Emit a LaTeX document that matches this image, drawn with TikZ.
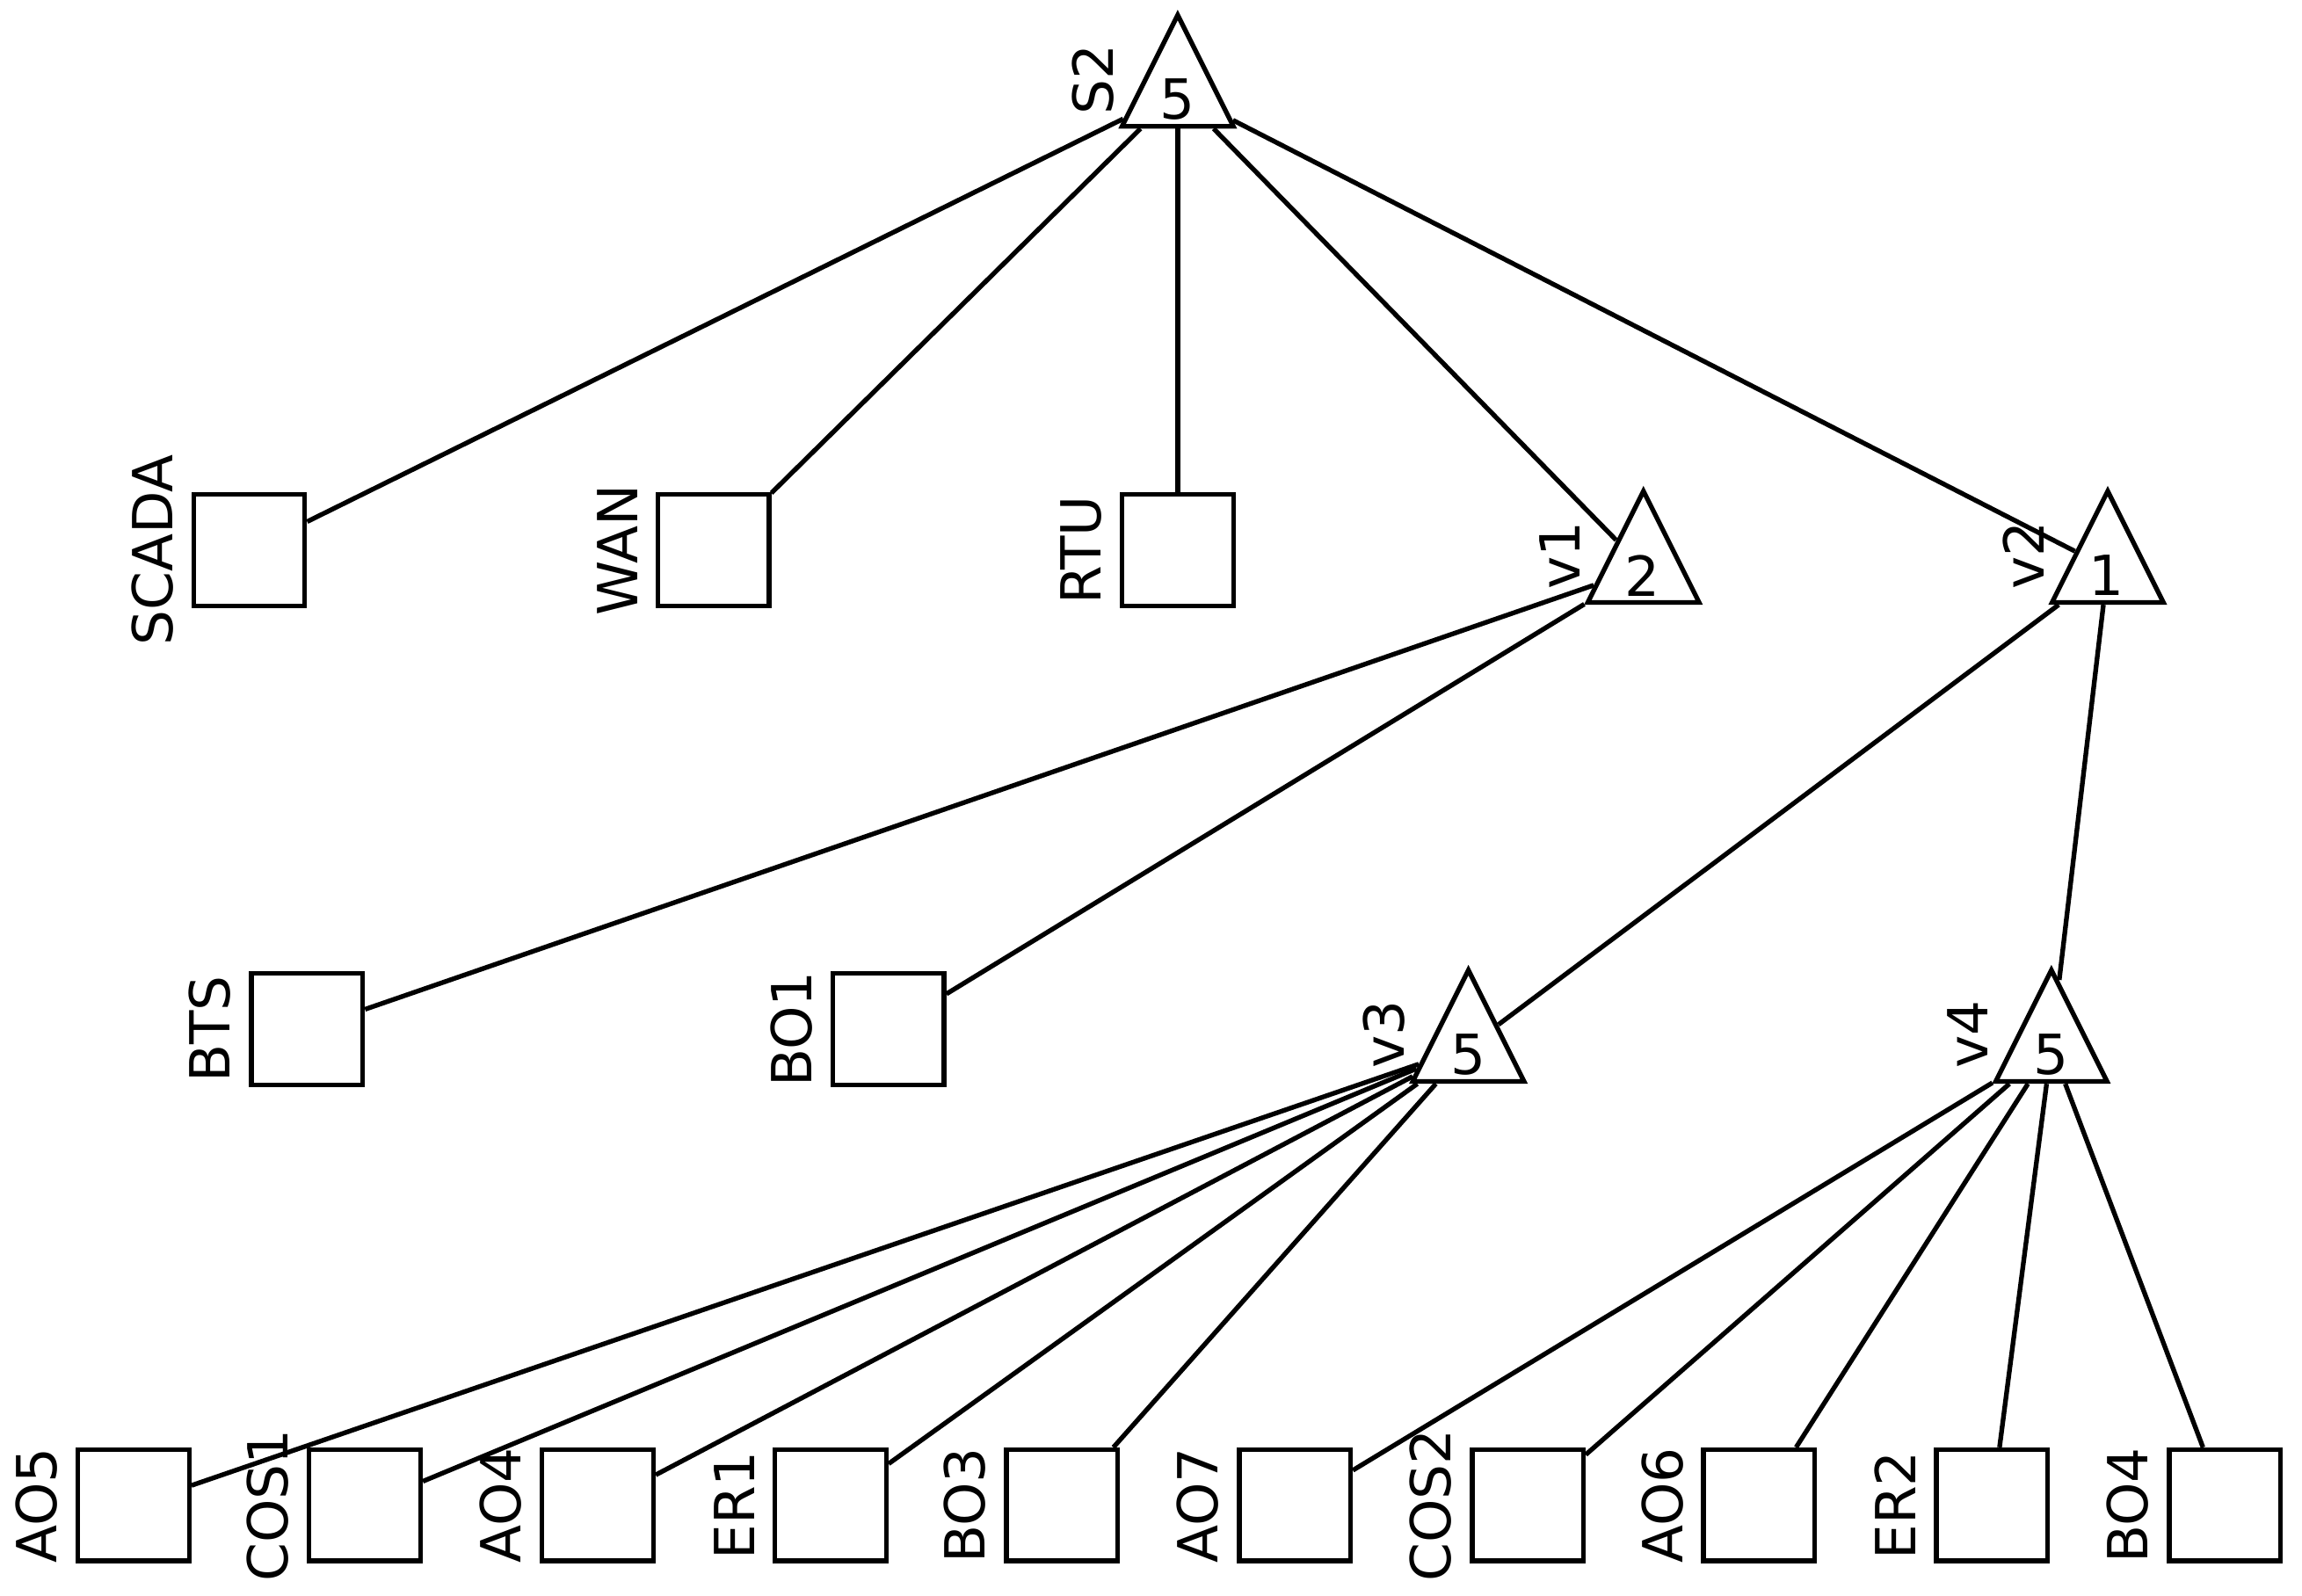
\documentclass[tikz,border=0pt]{standalone}
\usepackage{fontspec}
\setmainfont{DejaVu Sans}
\usetikzlibrary{shapes.geometric}

\tikzset{
  leaf/.style={draw, line width=0.9pt, minimum size=0.75cm, inner sep=0pt},
  gate/.style={draw, line width=0.9pt, isosceles triangle, shape border rotate=90,
               isosceles triangle stretches, minimum width=0.75cm, minimum height=0.75cm,
               inner sep=0pt},
  tag/.style={rotate=90, anchor=south, inner sep=3pt},
  gtag/.style={tag, inner sep=5pt},
  every node/.style={font=\fontsize{10.6}{12}\selectfont},
  every path/.style={line width=0.9pt}
}

\begin{document}
\begin{tikzpicture}[x=0.01cm, y=-0.01cm]
  \useasboundingbox (0,0) rectangle (1552,1076);

  % gates
  \node[gate, label={[gtag]160:S2}] (S2) at (794,62) {};
  \node[gate, label={[gtag]160:v1}] (v1) at (1108,383) {};
  \node[gate, label={[gtag]160:v2}] (v2) at (1421,383) {};
  \node[gate, label={[gtag]160:v3}] (v3) at (990,706) {};
  \node[gate, label={[gtag]160:v4}] (v4) at (1383,706) {};
  \node at (794,67) {5};
  \node at (1107,388) {2};
  \node at (1420,388) {1};
  \node at (990,711) {5};
  \node at (1383,711) {5};

  % leaves
  \node[leaf, label={[tag]west:SCADA}] (SCADA) at (168,371) {};
  \node[leaf, label={[tag]west:WAN}] (WAN) at (481,371) {};
  \node[leaf, label={[tag]west:RTU}] (RTU) at (794,371) {};
  \node[leaf, label={[tag]west:BTS}] (BTS) at (207,694) {};
  \node[leaf, label={[tag]west:BO1}] (BO1) at (599,694) {};
  \foreach \n/\x in {AO5/90, COS1/246, AO4/403, ER1/560, BO3/716,
                     AO7/873, COS2/1030, AO6/1186, ER2/1343, BO4/1500}
    \node[leaf, label={[tag]west:\n}] (\n) at (\x,1015) {};

  % edges
  \foreach \a/\b in {S2/SCADA, S2/WAN, S2/RTU, S2/v1, S2/v2, v1/BTS, v1/BO1,
                     v2/v3, v2/v4, v3/AO5, v3/COS1, v3/AO4, v3/ER1, v3/BO3,
                     v4/AO7, v4/COS2, v4/AO6, v4/ER2, v4/BO4}
    \draw (\a) -- (\b);
\end{tikzpicture}
\end{document}
